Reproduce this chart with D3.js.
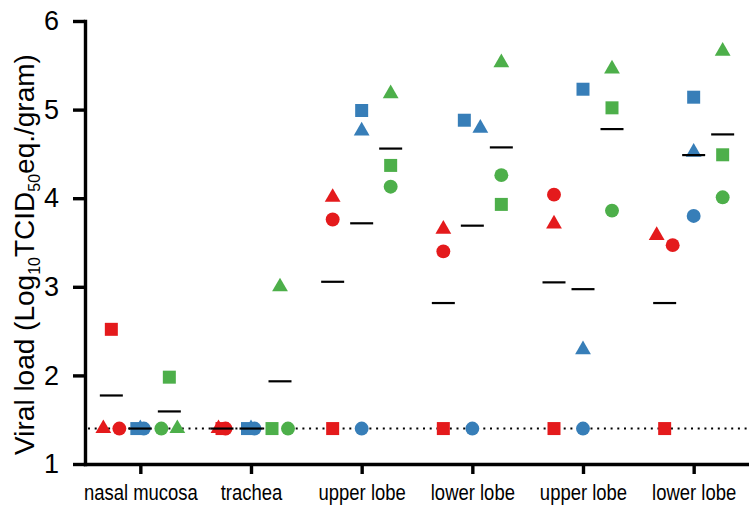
<!DOCTYPE html>
<html>
<head>
<meta charset="utf-8">
<script src="https://cdn.jsdelivr.net/npm/d3@7"></script>
<style>
  html, body { margin: 0; padding: 0; background: #fff; }
  svg { display: block; font-family: "Liberation Sans", Arial, Helvetica, sans-serif; }
</style>
</head>
<body>
<svg id="chart" width="749" height="510"></svg>
<script>
// ---------------- data ----------------
const categories = ["nasal mucosa", "trachea", "upper lobe", "lower lobe", "upper lobe", "lower lobe"];
const yTicks = [1, 2, 3, 4, 5, 6];
const detectionLimit = 1.4;

// red group (animals: triangle, square, circle)
const redTriangle = [1.4, 1.4, 4.01, 3.65, 3.71, 3.58];
const redSquare   = [2.52, 1.4, 1.4, 1.4, 1.4, 1.4];
const redCircle   = [1.4, 1.4, 3.76, 3.40, 4.04, 3.47];
// blue group (animals: square, triangle, circle)
const blueSquare   = [1.4, 1.4, 4.99, 4.88, 5.23, 5.14];
const blueTriangle = [1.4, 1.4, 4.76, 4.79, 2.29, 4.52];
const blueCircle   = [1.4, 1.4, 1.4, 1.4, 1.4, 3.80];
// green group (animals: square, circle, triangle)
const greenSquare   = [1.98, 1.4, 4.37, 3.93, 5.02, 4.49];
const greenCircle   = [1.4, 1.4, 4.13, 4.26, 3.86, 4.01];
const greenTriangle = [1.4, 3.0, 5.18, 5.53, 5.46, 5.66];

// ---------------- build ----------------
(function () {
const series = [
  { key: "red",   color: "#E41A1C", animals: [["triangle", redTriangle], ["square", redSquare], ["circle", redCircle]] },
  { key: "blue",  color: "#377EB8", animals: [["square", blueSquare], ["triangle", blueTriangle], ["circle", blueCircle]] },
  { key: "green", color: "#4DAF4A", animals: [["square", greenSquare], ["circle", greenCircle], ["triangle", greenTriangle]] }
];

const svg = d3.select("#chart");
const mLeft = 85, mRight = 749, mTop = 21, mBottom = 464;

const y = d3.scaleLinear().domain([1, 6]).range([mBottom, mTop]);
const x = d3.scalePoint().domain(d3.range(categories.length)).range([mLeft, mRight]).padding(0.5);
const sub = d3.scalePoint().domain(series.map(s => s.key)).range([-29, 29]);

const symbols = {
  circle:   d3.symbol().type(d3.symbolCircle).size(152),
  square:   d3.symbol().type(d3.symbolSquare).size(169),
  triangle: d3.symbol().type(d3.symbolTriangle).size(108)
};

// detection limit dotted line
svg.append("line")
  .attr("x1", 88).attr("x2", mRight)
  .attr("y1", y(detectionLimit)).attr("y2", y(detectionLimit))
  .attr("stroke", "#000").attr("stroke-width", 2)
  .attr("stroke-dasharray", "2,4.7");

// points
const pts = [];
const means = [];
categories.forEach((c, ci) => {
  series.forEach(s => {
    const cx = x(ci) + sub(s.key);
    const col = s.animals.map((a, k) => ({ k, shape: a[0], v: a[1][ci], color: s.color }));
    const sorted = col.slice().sort((a, b) => b.v - a.v || a.k - b.k);
    const clusters = [];
    sorted.forEach(p => {
      const last = clusters[clusters.length - 1];
      if (last && Math.abs(y(last[last.length - 1].v) - y(p.v)) < 12) last.push(p);
      else clusters.push([p]);
    });
    clusters.forEach(cl => {
      cl.sort((a, b) => a.k - b.k);
      const n = cl.length;
      const spacing = n <= 2 ? 16 : 7 / (n - 1);
      cl.forEach((p, i) => { p.px = cx + (i - (n - 1) / 2) * spacing; p.py = y(p.v); pts.push(p); });
    });
    means.push({ cx, v: d3.mean(col, d => d.v) });
  });
});

svg.append("g").selectAll("path").data(pts).join("path")
  .attr("d", d => symbols[d.shape]())
  .attr("transform", d => `translate(${d.px},${d.py})`)
  .attr("fill", d => d.color);

svg.append("g").selectAll("line").data(means).join("line")
  .attr("x1", d => d.cx - 11.5).attr("x2", d => d.cx + 11.5)
  .attr("y1", d => y(d.v)).attr("y2", d => y(d.v))
  .attr("stroke", "#000").attr("stroke-width", 2.2);

// axes
const yAxis = svg.append("g").attr("transform", `translate(${mLeft},0)`)
  .call(d3.axisLeft(y).tickValues(yTicks).tickFormat(d3.format("d")).tickSize(12).tickSizeOuter(0).tickPadding(14));
const xAxis = svg.append("g").attr("transform", `translate(0,${mBottom})`)
  .call(d3.axisBottom(x).tickSize(10).tickSizeOuter(0).tickFormat(i => categories[i]));

[yAxis, xAxis].forEach(g => {
  g.select(".domain").attr("stroke", "#000").attr("stroke-width", 3.4).attr("stroke-linecap", "square");
  g.selectAll(".tick line").attr("stroke", "#000").attr("stroke-width", 3.4);
});
yAxis.selectAll(".tick text")
  .attr("font-size", 27).attr("fill", "#000")
  .attr("font-family", "'Liberation Sans', Arial, sans-serif");
xAxis.selectAll(".tick text")
  .attr("font-size", 22).attr("fill", "#000")
  .attr("font-family", "'Liberation Sans', Arial, sans-serif")
  .attr("y", 36).attr("dy", 0)
  .attr("transform", "scale(0.84,1)");

// y-axis title
const title = svg.append("text")
  .attr("transform", `translate(34,${(mTop + mBottom) / 2 + 12}) rotate(-90)`)
  .attr("text-anchor", "middle")
  .attr("font-size", 28).attr("fill", "#000");
title.append("tspan").text("Viral load (Log");
title.append("tspan").attr("font-size", 16).attr("dy", 6).text("10");
title.append("tspan").attr("dy", -6).text("TCID");
title.append("tspan").attr("font-size", 16).attr("dy", 6).text("50");
title.append("tspan").attr("dy", -6).text("eq./gram)");
})();
</script>
</body>
</html>
